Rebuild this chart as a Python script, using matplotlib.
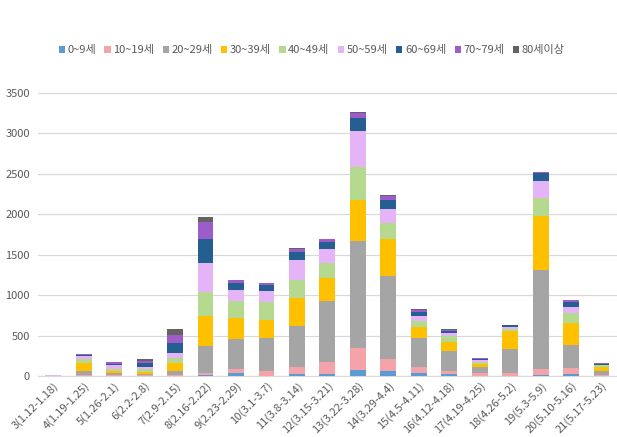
import matplotlib
matplotlib.use("Agg")
import matplotlib.pyplot as plt
import numpy as np
from matplotlib.patches import Patch

plt.rcParams["font.family"] = ["Noto Sans CJK KR", "DejaVu Sans"]

weeks = [
    "3(1.12-1.18)", "4(1.19-1.25)", "5(1.26-2.1)", "6(2.2-2.8)", "7(2.9-2.15)",
    "8(2.16-2.22)", "9(2.23-2.29)", "10(3.1-3.7)", "11(3.8-3.14)", "12(3.15-3.21)",
    "13(3.22-3.28)", "14(3.29-4.4)", "15(4.5-4.11)", "16(4.12-4.18)", "17(4.19-4.25)",
    "18(4.26-5.2)", "19(5.3-5.9)", "20(5.10-5.16)", "21(5.17-5.23)",
]

groups = ["0~9세", "10~19세", "20~29세", "30~39세", "40~49세",
          "50~59세", "60~69세", "70~79세", "80세이상"]
colors = ["#5B9BD5", "#F4A3A8", "#A5A5A5", "#FFC000", "#B5D98F",
          "#E4B4F7", "#255E91", "#9C5DCB", "#636363"]

age_0_9   = [0, 4, 3, 3, 3, 16, 33, 3, 25, 20, 74, 66, 33, 25, 4, 5, 12, 25, 3]
age_10_19 = [1, 8, 8, 5, 5, 17, 49, 55, 90, 157, 268, 140, 74, 41, 29, 28, 75, 70, 5]
age_20_29 = [3, 54, 30, 17, 54, 338, 376, 408, 503, 755, 1327, 1035, 359, 243, 74, 297, 1224, 288, 58]
age_30_39 = [1, 90, 20, 29, 95, 371, 263, 222, 342, 280, 507, 449, 136, 116, 37, 230, 668, 268, 50]
age_40_49 = [1, 49, 25, 28, 61, 301, 206, 223, 227, 189, 404, 198, 78, 70, 33, 22, 226, 124, 15]
age_50_59 = [1, 41, 45, 33, 71, 358, 136, 140, 247, 165, 450, 181, 62, 33, 21, 20, 206, 82, 10]
age_60_69 = [3, 16, 20, 40, 115, 289, 91, 80, 104, 94, 156, 107, 54, 27, 15, 25, 95, 62, 10]
age_70_79 = [1, 8, 20, 25, 103, 218, 28, 16, 33, 30, 70, 55, 25, 17, 8, 4, 21, 21, 12]
age_80    = [2, 2, 6, 30, 70, 62, 5, 7, 16, 5, 10, 7, 8, 5, 4, 2, 0, 0, 2]

series = [age_0_9, age_10_19, age_20_29, age_30_39, age_40_49,
          age_50_59, age_60_69, age_70_79, age_80]

fig = plt.figure(figsize=(6.17, 4.37), dpi=100)
ax = fig.add_axes([0.0616, 0.1396, 0.938, 0.6476])

x = np.arange(len(weeks))
bottom = np.zeros(len(weeks))
for vals, col in zip(series, colors):
    vals = np.array(vals, dtype=float)
    ax.bar(x, vals, width=0.52, bottom=bottom, color=col, zorder=3)
    bottom += vals

ax.set_xlim(-0.5, len(weeks) - 0.5)
ax.set_ylim(0, 3500)
ax.set_yticks(np.arange(0, 3501, 500))
ax.yaxis.grid(True, color="#D9D9D9", linewidth=0.9, zorder=0)
for side in ["top", "right", "left"]:
    ax.spines[side].set_visible(False)
ax.spines["bottom"].set_color("#D9D9D9")
ax.tick_params(axis="y", length=0, labelsize=8, labelcolor="#595959", pad=6)
ax.tick_params(axis="x", length=0, labelsize=8, labelcolor="#595959", pad=3)
ax.set_xticks(x)
ax.set_xticklabels(weeks, rotation=45, ha="right", va="top", rotation_mode="anchor")

handles = [Patch(facecolor=c, edgecolor="none") for c in colors]
fig.legend(handles, groups, loc="center", bbox_to_anchor=(0.505, 0.885), ncol=9,
           frameon=False, fontsize=8, handlelength=0.55, handleheight=0.55,
           handletextpad=0.25, columnspacing=0.75, labelcolor="#595959")

fig.savefig("out.png", dpi=100, facecolor="white")
